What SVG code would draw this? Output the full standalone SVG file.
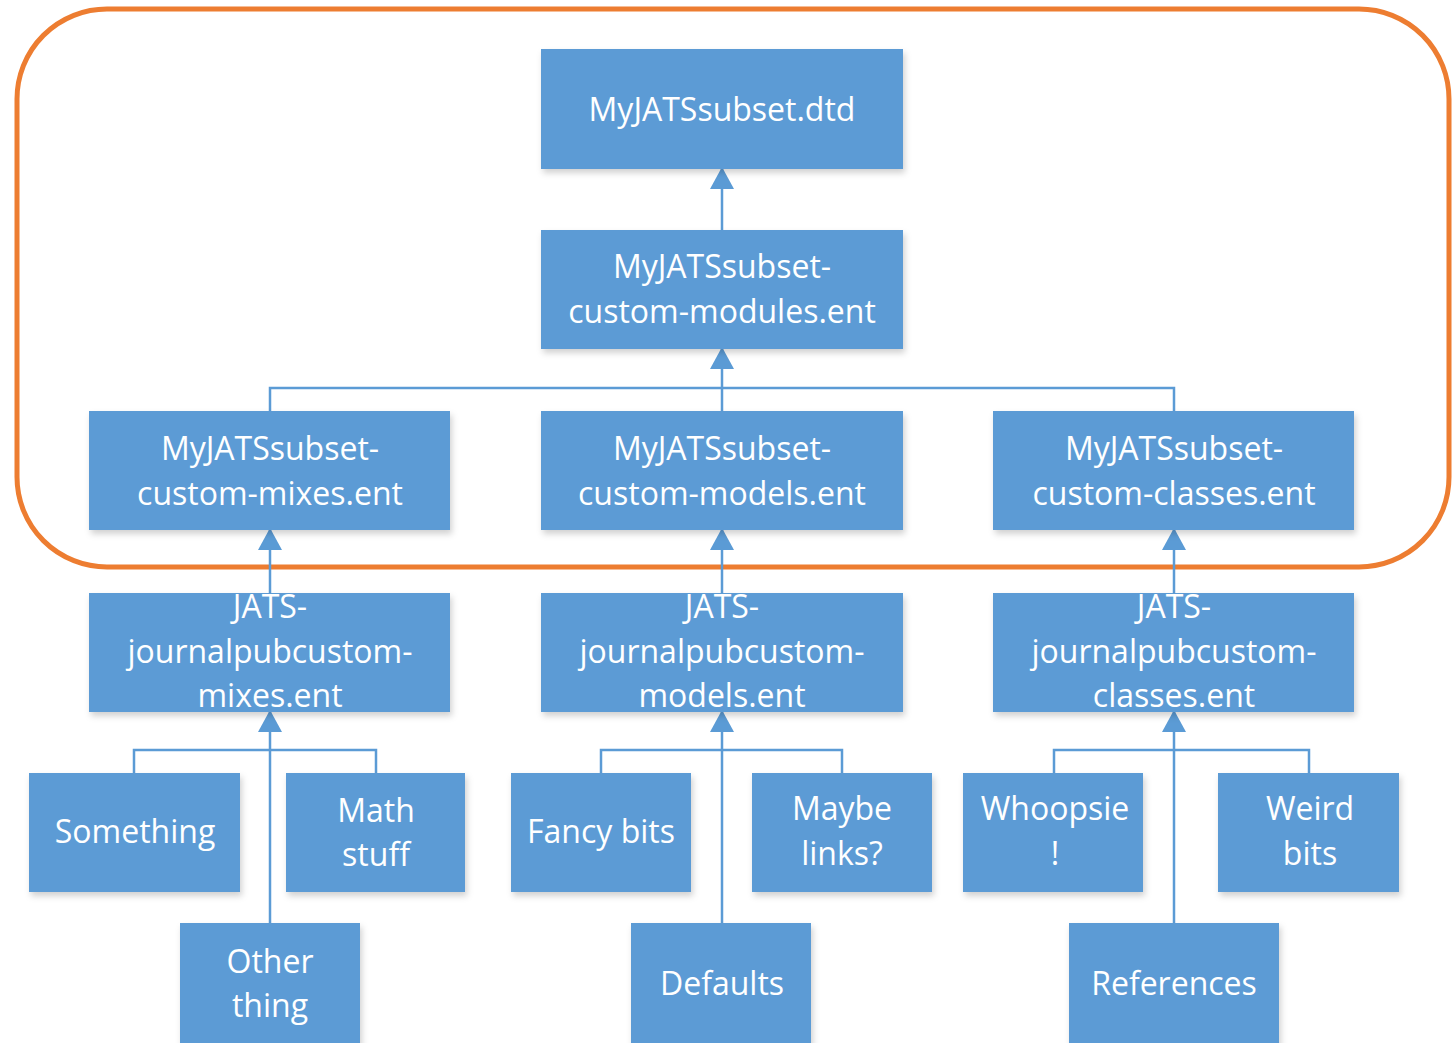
<svg xmlns="http://www.w3.org/2000/svg" width="1455" height="1043" viewBox="0 0 1455 1043">
<defs>
<style>
.box{fill:#5B9BD5;filter:url(#sh)}
.t{font-family:"Open Sans","Noto Sans",sans-serif;font-size:32px;fill:#fff;text-anchor:middle}
.c{stroke:#5B9BD5;stroke-width:2.5;fill:none}
</style>
<filter id="sh" x="-10%" y="-10%" width="130%" height="140%">
<feDropShadow dx="2" dy="4" stdDeviation="3" flood-color="#000" flood-opacity="0.18"/>
</filter>
<marker id="a" viewBox="0 0 22 24" refX="20" refY="12" markerWidth="22" markerHeight="24" orient="auto" markerUnits="userSpaceOnUse">
<path d="M0,0 L22,12 L0,24 z" fill="#5B9BD5"/>
</marker>
</defs>
<rect width="1455" height="1043" fill="#fff"/>
<rect x="17" y="9" width="1432" height="558" rx="90" ry="90" fill="none" stroke="#ED7D31" stroke-width="5"/>
<g id="connectors">
<path class="c" d="M722,230 V169" marker-end="url(#a)"/>
<path class="c" d="M270,411 V388 H1174 V411"/>
<path class="c" d="M722,411 V349" marker-end="url(#a)"/>
<path class="c" d="M270,593 V530" marker-end="url(#a)"/>
<path class="c" d="M722,593 V530" marker-end="url(#a)"/>
<path class="c" d="M1174,593 V530" marker-end="url(#a)"/>
<path class="c" d="M134,773 V750 H376 V773"/>
<path class="c" d="M270,923 V712" marker-end="url(#a)"/>
<path class="c" d="M601,773 V750 H842 V773"/>
<path class="c" d="M722,923 V712" marker-end="url(#a)"/>
<path class="c" d="M1054,773 V750 H1309 V773"/>
<path class="c" d="M1174,923 V712" marker-end="url(#a)"/>
</g>
<g id="n-dtd"><rect class="box" x="541" y="49" width="362" height="120"/><text class="t" x="722" y="121">MyJATSsubset.dtd</text></g>
<g id="n-modules"><rect class="box" x="541" y="230" width="362" height="119"/><text class="t" x="722" y="278">MyJATSsubset-</text><text class="t" x="722" y="323">custom-modules.ent</text></g>
<g id="n-mixes"><rect class="box" x="89" y="411" width="361" height="119"/><text class="t" x="270" y="460">MyJATSsubset-</text><text class="t" x="270" y="505">custom-mixes.ent</text></g>
<g id="n-models"><rect class="box" x="541" y="411" width="362" height="119"/><text class="t" x="722" y="460">MyJATSsubset-</text><text class="t" x="722" y="505">custom-models.ent</text></g>
<g id="n-classes"><rect class="box" x="993" y="411" width="361" height="119"/><text class="t" x="1174" y="460">MyJATSsubset-</text><text class="t" x="1174" y="505">custom-classes.ent</text></g>
<g id="n-jmixes"><rect class="box" x="89" y="593" width="361" height="119"/><text class="t" x="270" y="618">JATS-</text><text class="t" x="270" y="663">journalpubcustom-</text><text class="t" x="270" y="707">mixes.ent</text></g>
<g id="n-jmodels"><rect class="box" x="541" y="593" width="362" height="119"/><text class="t" x="722" y="618">JATS-</text><text class="t" x="722" y="663">journalpubcustom-</text><text class="t" x="722" y="707">models.ent</text></g>
<g id="n-jclasses"><rect class="box" x="993" y="593" width="361" height="119"/><text class="t" x="1174" y="618">JATS-</text><text class="t" x="1174" y="663">journalpubcustom-</text><text class="t" x="1174" y="707">classes.ent</text></g>
<g id="n-something"><rect class="box" x="29" y="773" width="211" height="119"/><text class="t" x="135" y="843">Something</text></g>
<g id="n-math"><rect class="box" x="286" y="773" width="179" height="119"/><text class="t" x="376" y="822">Math</text><text class="t" x="376" y="866">stuff</text></g>
<g id="n-other"><rect class="box" x="180" y="923" width="180" height="125"/><text class="t" x="270" y="973">Other</text><text class="t" x="270" y="1017">thing</text></g>
<g id="n-fancy"><rect class="box" x="511" y="773" width="180" height="119"/><text class="t" x="601" y="843">Fancy bits</text></g>
<g id="n-maybe"><rect class="box" x="752" y="773" width="180" height="119"/><text class="t" x="842" y="820">Maybe</text><text class="t" x="842" y="865">links?</text></g>
<g id="n-defaults"><rect class="box" x="631" y="923" width="180" height="125"/><text class="t" x="722" y="995">Defaults</text></g>
<g id="n-whoopsie"><rect class="box" x="963" y="773" width="180" height="119"/><text class="t" x="1055" y="820">Whoopsie</text><text class="t" x="1055" y="865">!</text></g>
<g id="n-weird"><rect class="box" x="1218" y="773" width="181" height="119"/><text class="t" x="1310" y="820">Weird</text><text class="t" x="1310" y="865">bits</text></g>
<g id="n-references"><rect class="box" x="1069" y="923" width="210" height="125"/><text class="t" x="1174" y="995">References</text></g>
</svg>
